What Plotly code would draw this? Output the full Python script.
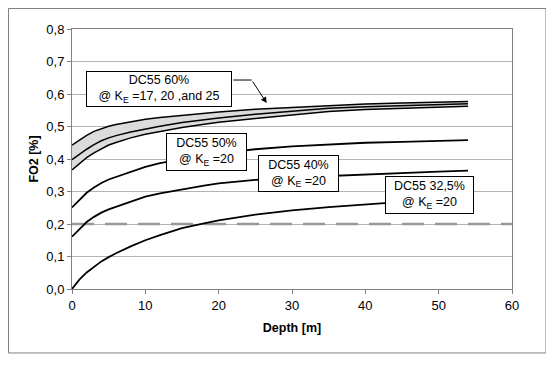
import plotly.graph_objects as go

depth = [0, 1, 2, 3, 4, 5, 6, 8, 10, 12, 15, 18, 20, 25, 30, 35, 40, 45, 50, 54]

dc60_ke_top = [0.443, 0.458, 0.473, 0.485, 0.494, 0.501, 0.506, 0.515, 0.522, 0.528,
               0.535, 0.542, 0.545, 0.553, 0.559, 0.565, 0.569, 0.572, 0.575, 0.577]
dc60_ke_mid = [0.398, 0.415, 0.430, 0.444, 0.456, 0.465, 0.472, 0.483, 0.493, 0.501,
               0.512, 0.521, 0.526, 0.538, 0.548, 0.556, 0.561, 0.565, 0.568, 0.570]
dc60_ke_bot = [0.366, 0.386, 0.404, 0.419, 0.432, 0.443, 0.451, 0.465, 0.476, 0.485,
               0.497, 0.507, 0.513, 0.525, 0.536, 0.546, 0.552, 0.556, 0.560, 0.562]
dc50 = [0.251, 0.275, 0.296, 0.312, 0.326, 0.337, 0.345, 0.362, 0.376, 0.387,
        0.400, 0.411, 0.418, 0.430, 0.439, 0.445, 0.450, 0.453, 0.456, 0.458]
dc40 = [0.161, 0.185, 0.206, 0.222, 0.235, 0.245, 0.253, 0.270, 0.284, 0.294,
        0.307, 0.318, 0.325, 0.336, 0.343, 0.348, 0.353, 0.357, 0.361, 0.364]
dc325 = [0.0, 0.029, 0.051, 0.069, 0.085, 0.098, 0.110, 0.131, 0.150, 0.166,
         0.187, 0.202, 0.211, 0.229, 0.242, 0.252, 0.261, 0.268, 0.274, 0.278]

limit_depth = [0, 60]
limit_fo2 = [0.2, 0.2]

x_ticks = [0, 10, 20, 30, 40, 50, 60]
y_ticks = [0.0, 0.1, 0.2, 0.3, 0.4, 0.5, 0.6, 0.7, 0.8]

FONT = "Liberation Sans, Arial, sans-serif"

fig = go.Figure()

# 60% band
fig.add_trace(go.Scatter(x=depth, y=dc60_ke_bot, mode="lines",
                         line=dict(color="black", width=1.5), showlegend=False))
fig.add_trace(go.Scatter(x=depth, y=dc60_ke_top, mode="lines", fill="tonexty",
                         fillcolor="#dcdcdc",
                         line=dict(color="black", width=1.5), showlegend=False))
fig.add_trace(go.Scatter(x=depth, y=dc60_ke_mid, mode="lines",
                         line=dict(color="black", width=1.5), showlegend=False))

# limit line
fig.add_trace(go.Scatter(x=limit_depth, y=limit_fo2, mode="lines",
                         line=dict(color="#999999", width=2.5, dash="22px,11px"),
                         showlegend=False))

for ys in (dc50, dc40, dc325):
    fig.add_trace(go.Scatter(x=depth, y=ys, mode="lines",
                             line=dict(color="black", width=1.8), showlegend=False))

def box(text, x, y, w, h):
    return dict(text=text, x=x, y=y, xref="x", yref="y", showarrow=False,
                font=dict(family=FONT, size=12.5, color="black"),
                bgcolor="white", bordercolor="black", borderwidth=1, borderpad=1,
                width=w, height=h, align="center", valign="middle")

annotations = [
    box("DC55 60%<br>@ K<sub>E</sub> =17, 20 ,and 25", 11.86, 0.614, 142, 32),
    box("DC55 50%<br>@ K<sub>E</sub> =20", 18.3, 0.4215, 77, 34),
    box("DC55 40%<br>@ K<sub>E</sub> =20", 30.86, 0.3545, 77, 33),
    box("DC55 32,5%<br>@ K<sub>E</sub> =20", 48.8, 0.288, 85, 34),
    dict(text="", x=26.55, y=0.572, ax=24.5, ay=0.643, xref="x", yref="y",
         axref="x", ayref="y", showarrow=True, arrowhead=2, arrowsize=1.2,
         arrowwidth=1, arrowcolor="black"),
]

shapes = [
    dict(type="line", xref="x", yref="y", x0=22.0, y0=0.643, x1=24.5, y1=0.643,
         line=dict(color="black", width=1)),
    dict(type="rect", xref="paper", yref="paper", x0=-0.1443, x1=1.0773,
         y0=-0.246, y1=1.0788, line=dict(color="#808080", width=1)),
]

fig.update_layout(
    width=546, height=373,
    margin=dict(l=64, r=42, t=21, b=92),
    paper_bgcolor="white", plot_bgcolor="white",
    separators=",.",
    font=dict(family=FONT, size=12, color="black"),
    annotations=annotations, shapes=shapes,
    showlegend=False,
)
fig.update_xaxes(range=[0, 60], tickvals=x_ticks, showgrid=False, zeroline=False,
                 showline=True, linecolor="#808080", linewidth=1, mirror=True,
                 ticks="outside", ticklen=4, tickcolor="#808080",
                 tickfont=dict(size=13),
                 title=dict(text="<b>Depth [m]</b>", font=dict(size=12.5), standoff=11))
fig.update_yaxes(range=[0, 0.8], tickvals=y_ticks, tickformat=".1f",
                 showgrid=True, gridcolor="#b4b4b4", gridwidth=1, zeroline=False,
                 showline=True, linecolor="#808080", linewidth=1, mirror=True,
                 ticks="outside", ticklen=4, tickcolor="#808080",
                 tickfont=dict(size=13),
                 title=dict(text="<b>FO2 [%]</b>", font=dict(size=12.5), standoff=4))

fig.write_html("out.html")
